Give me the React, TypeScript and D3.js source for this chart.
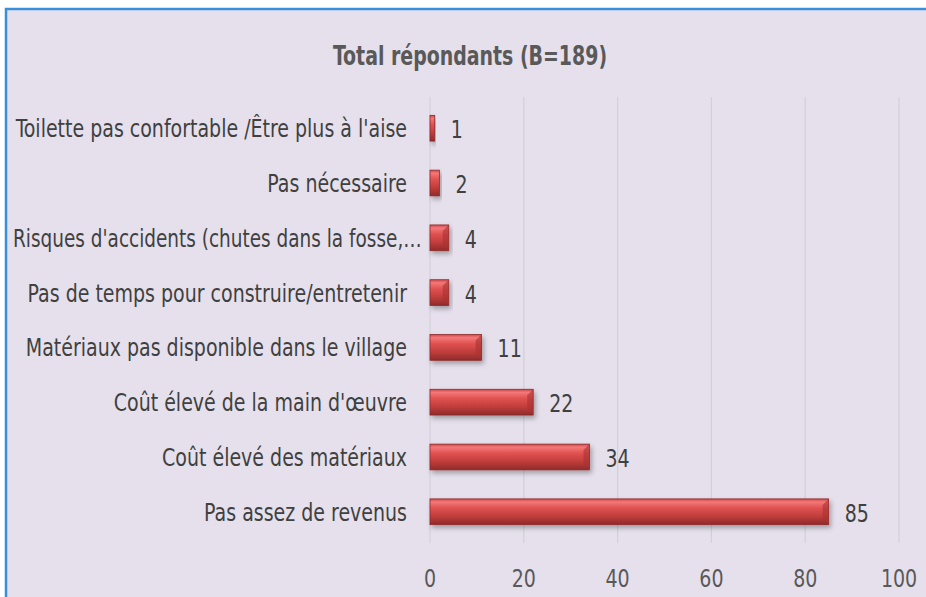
import React, { useEffect, useRef } from 'react';
import * as d3 from 'd3';

const title = 'Total répondants (B=189)';

const categories = [
  "Toilette pas confortable /Être plus à l'aise",
  'Pas nécessaire',
  "Risques d'accidents (chutes dans la fosse,…",
  'Pas de temps pour construire/entretenir',
  'Matériaux pas disponible dans le village',
  "Coût élevé de la main d'œuvre",
  'Coût élevé des matériaux',
  'Pas assez de revenus',
];

const values = [1, 2, 4, 4, 11, 22, 34, 85];

const xTicks = [0, 20, 40, 60, 80, 100];

const FONT = "'DejaVu Sans Condensed', 'DejaVu Sans', sans-serif";
// the reference text is tall and narrow, so squeeze it horizontally
const SQUEEZE = 0.88;

const App = () => {
  const svgRef = useRef<SVGSVGElement>(null);

  useEffect(() => {
    if (!svgRef.current) return;
    const svg = d3.select(svgRef.current);
    svg.selectAll('*').remove();

    const width = 926;
    const height = 597;
    const margin = { top: 97, right: 27, bottom: 54, left: 430 };

    // frame
    svg.append('rect').attr('width', width).attr('height', height).attr('fill', '#ffffff');
    svg.append('rect')
      .attr('x', 6).attr('y', 9)
      .attr('width', width + 10).attr('height', height + 10)
      .attr('fill', '#e5e0ec')
      .attr('stroke', '#3b8eda')
      .attr('stroke-width', 2.5);

    const defs = svg.append('defs');
    const grad = defs.append('linearGradient')
      .attr('id', 'barGrad')
      .attr('x1', 0).attr('y1', 0).attr('x2', 0).attr('y2', 1);
    grad.append('stop').attr('offset', '0%').attr('stop-color', '#cc4a4a');
    grad.append('stop').attr('offset', '12%').attr('stop-color', '#f47878');
    grad.append('stop').attr('offset', '35%').attr('stop-color', '#e05252');
    grad.append('stop').attr('offset', '70%').attr('stop-color', '#bd3c3a');
    grad.append('stop').attr('offset', '100%').attr('stop-color', '#8e2a2a');

    const shadow = defs.append('filter').attr('id', 'barShadow')
      .attr('x', '-10%').attr('y', '-30%').attr('width', '130%').attr('height', '180%');
    shadow.append('feDropShadow')
      .attr('dx', 2).attr('dy', 3).attr('stdDeviation', 2.5)
      .attr('flood-color', '#000').attr('flood-opacity', 0.3);

    const x = d3.scaleLinear()
      .domain([0, 100])
      .range([margin.left, width - margin.right]);

    const y = d3.scaleBand()
      .domain(categories)
      .range([margin.top, height - margin.bottom])
      .paddingInner(0.53)
      .paddingOuter(0.335);

    const cy = (c: string) => (y(c) as number) + y.bandwidth() / 2;

    // gridlines
    svg.append('g')
      .selectAll('line')
      .data(xTicks)
      .enter().append('line')
      .attr('x1', d => x(d)).attr('x2', d => x(d))
      .attr('y1', margin.top).attr('y2', height - margin.bottom)
      .attr('stroke', '#d3d0d8')
      .attr('stroke-width', 1.2);

    // x tick labels
    svg.append('g')
      .selectAll('text')
      .data(xTicks)
      .enter().append('text')
      .attr('transform', d => `translate(${x(d)},587) scale(${SQUEEZE},1)`)
      .attr('text-anchor', 'middle')
      .attr('font-family', FONT)
      .attr('font-size', 24)
      .attr('fill', '#595959')
      .text(d => d);

    // category labels (right aligned; a truncated one that does not fit
    // starts at the left edge and runs up to the bar, like Excel does)
    const labelRight = margin.left - 23;
    const labelLeft = 13;
    svg.append('g')
      .selectAll('text')
      .data(categories)
      .enter().append('text')
      .attr('font-family', FONT)
      .attr('font-size', 24)
      .attr('fill', '#404040')
      .text(d => d)
      .each(function (d) {
        const t = this as SVGTextElement;
        const w = t.getComputedTextLength();
        const baseY = cy(d) + 9;
        if (w * SQUEEZE > labelRight - labelLeft) {
          const s = (margin.left - 8 - labelLeft) / w;
          d3.select(t)
            .attr('text-anchor', 'start')
            .attr('transform', `translate(${labelLeft},${baseY}) scale(${s},1)`);
        } else {
          d3.select(t)
            .attr('text-anchor', 'end')
            .attr('transform', `translate(${labelRight},${baseY}) scale(${SQUEEZE},1)`);
        }
      });

    // bars
    const data = categories.map((c, i) => ({ c, v: values[i] }));
    const bars = svg.append('g');
    bars.selectAll('rect.bar')
      .data(data)
      .enter().append('rect')
      .attr('class', 'bar')
      .attr('x', x(0))
      .attr('y', d => y(d.c) as number)
      .attr('width', d => x(d.v) - x(0))
      .attr('height', y.bandwidth())
      .attr('fill', 'url(#barGrad)')
      .attr('stroke', '#8e2a2a')
      .attr('stroke-width', 0.8)
      .attr('filter', 'url(#barShadow)');

    // bevel on the bar end
    bars.selectAll('path.bevel')
      .data(data.filter(d => x(d.v) - x(0) > 12))
      .enter().append('path')
      .attr('class', 'bevel')
      .attr('d', d => {
        const x1 = x(d.v);
        const y0 = y(d.c) as number;
        const h = y.bandwidth();
        return `M${x1},${y0} L${x1 - 6},${y0 + 6} L${x1 - 6},${y0 + h - 6} L${x1},${y0 + h} Z`;
      })
      .attr('fill', '#a83232')
      .attr('opacity', 0.6);

    // value labels
    svg.append('g')
      .selectAll('text')
      .data(data)
      .enter().append('text')
      .attr('transform', d => `translate(${x(d.v) + 16},${cy(d.c) + 10}) scale(${SQUEEZE},1)`)
      .attr('font-family', FONT)
      .attr('font-size', 24)
      .attr('fill', '#404040')
      .text(d => d.v);

    // title
    svg.append('text')
      .attr('transform', 'translate(470,65) scale(0.81,1)')
      .attr('text-anchor', 'middle')
      .attr('font-family', FONT)
      .attr('font-size', 26)
      .attr('font-weight', 'bold')
      .attr('fill', '#595959')
      .text(title);
  }, []);

  return (
    <div style={{ position: 'absolute', left: 0, top: 0 }}>
      <svg ref={svgRef} width={926} height={597} style={{ display: 'block' }}></svg>
    </div>
  );
};

export default App;
